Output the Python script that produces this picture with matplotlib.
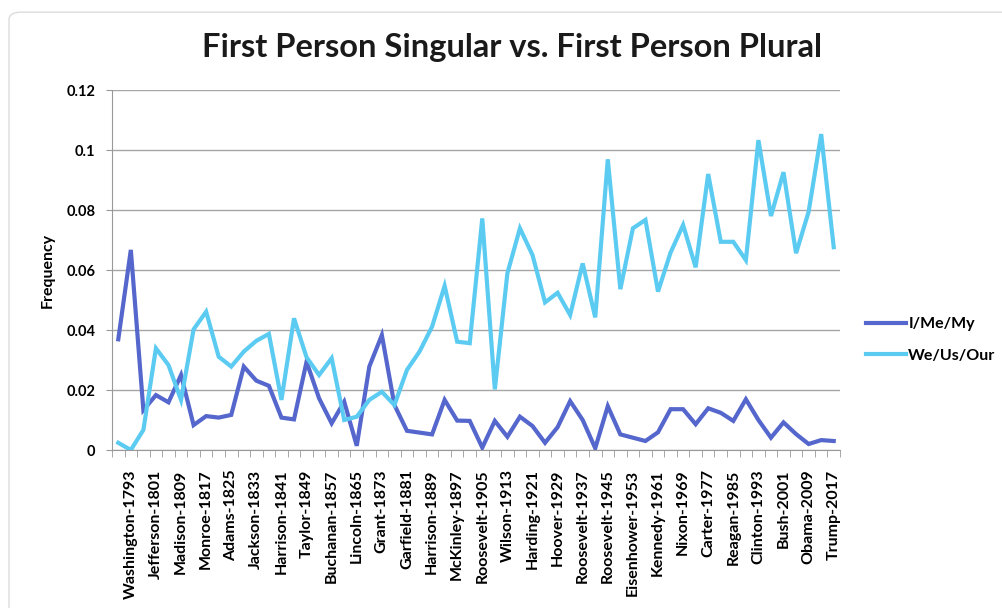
import matplotlib
matplotlib.use("Agg")
import matplotlib.pyplot as plt
from matplotlib.patches import FancyBboxPatch

# inaugural addresses, 1789 - 2017
speeches = [
    "Washington-1789", "Washington-1793", "Adams-1797", "Jefferson-1801", "Jefferson-1805",
    "Madison-1809", "Madison-1813", "Monroe-1817", "Monroe-1821", "Adams-1825",
    "Jackson-1829", "Jackson-1833", "VanBuren-1837", "Harrison-1841", "Polk-1845",
    "Taylor-1849", "Pierce-1853", "Buchanan-1857", "Lincoln-1861", "Lincoln-1865",
    "Grant-1869", "Grant-1873", "Hayes-1877", "Garfield-1881", "Cleveland-1885",
    "Harrison-1889", "Cleveland-1893", "McKinley-1897", "McKinley-1901", "Roosevelt-1905",
    "Taft-1909", "Wilson-1913", "Wilson-1917", "Harding-1921", "Coolidge-1925",
    "Hoover-1929", "Roosevelt-1933", "Roosevelt-1937", "Roosevelt-1941", "Roosevelt-1945",
    "Truman-1949", "Eisenhower-1953", "Eisenhower-1957", "Kennedy-1961", "Johnson-1965",
    "Nixon-1969", "Nixon-1973", "Carter-1977", "Reagan-1981", "Reagan-1985",
    "Bush-1989", "Clinton-1993", "Clinton-1997", "Bush-2001", "Bush-2005",
    "Obama-2009", "Obama-2013", "Trump-2017",
]

i_me_my = [
    0.0369, 0.0667, 0.0133, 0.0183, 0.0159, 0.0250, 0.0083, 0.0113, 0.0108, 0.0117,
    0.0278, 0.0231, 0.0214, 0.0108, 0.0102, 0.0294, 0.0172, 0.0089, 0.0161, 0.0014,
    0.0278, 0.0383, 0.0150, 0.0064, 0.0058, 0.0052, 0.0167, 0.0098, 0.0097, 0.0008,
    0.0097, 0.0044, 0.0111, 0.0080, 0.0024, 0.0076, 0.0163, 0.0100, 0.0006, 0.0146,
    0.0052, 0.0041, 0.0030, 0.0059, 0.0136, 0.0136, 0.0086, 0.0139, 0.0124, 0.0097,
    0.0169, 0.0100, 0.0041, 0.0092, 0.0053, 0.0020, 0.0033, 0.0030,
]

we_us_our = [
    0.0024, 0.0000, 0.0067, 0.0339, 0.0283, 0.0167, 0.0402, 0.0461, 0.0311, 0.0278,
    0.0328, 0.0364, 0.0387, 0.0167, 0.0439, 0.0309, 0.0250, 0.0306, 0.0100, 0.0111,
    0.0167, 0.0194, 0.0150, 0.0267, 0.0328, 0.0411, 0.0547, 0.0361, 0.0356, 0.0772,
    0.0202, 0.0589, 0.0739, 0.0650, 0.0492, 0.0524, 0.0450, 0.0622, 0.0442, 0.0969,
    0.0536, 0.0739, 0.0767, 0.0528, 0.0658, 0.0750, 0.0609, 0.0920, 0.0694, 0.0694,
    0.0633, 0.1033, 0.0780, 0.0926, 0.0656, 0.0794, 0.1053, 0.0676,
]

plt.rcParams['font.family'] = ['Lato', 'DejaVu Sans']

fig = plt.figure(figsize=(10.03, 6.08), dpi=100)

# card border behind everything
card = FancyBboxPatch((0.009, -0.05), 1.2, 1.03, boxstyle="round,pad=0,rounding_size=0.012",
                      transform=fig.transFigure, facecolor='white', edgecolor='#dcdcdc',
                      linewidth=1.0, zorder=-10)
fig.patches.append(card)

ax = fig.add_axes([112 / 1003, 1 - 450 / 608, 728 / 1003, 360 / 608])

x = list(range(len(speeches)))
ax.plot(x, i_me_my, color='#5566cc', linewidth=3.0, label='I/Me/My', solid_joinstyle='miter')
ax.plot(x, we_us_our, color='#5bcbf2', linewidth=3.0, label='We/Us/Our', solid_joinstyle='miter')

ax.set_xlim(-0.5, len(speeches) - 0.5)
ax.set_ylim(0, 0.12)
ax.set_yticks([0, 0.02, 0.04, 0.06, 0.08, 0.1, 0.12])
ax.set_yticklabels(['0', '0.02', '0.04', '0.06', '0.08', '0.1', '0.12'],
                   fontsize=10.5, fontweight='bold')
ax.tick_params(axis='y', length=4, color='#999999', pad=8, direction='out')
ax.grid(True, axis='y', color='#a6a6a6', linewidth=1.0)
ax.set_axisbelow(True)

# category labels every other speech, tick marks between categories
ax.set_xticks(x[1::2])
ax.set_xticklabels(speeches[1::2], rotation=90, fontsize=11.5, fontweight='bold')
ax.set_xticks([i - 0.5 for i in range(len(speeches) + 1)], minor=True)
ax.tick_params(axis='x', which='major', length=0, pad=14)
ax.tick_params(axis='x', which='minor', length=5, color='#999999')

for s in ['top', 'right']:
    ax.spines[s].set_visible(False)
ax.spines['left'].set_color('#999999')
ax.spines['bottom'].set_color('#999999')

ax.set_ylabel('Frequency', fontsize=11.5, fontweight='bold', labelpad=8)

fig.text(512 / 1003, 1 - 47 / 608, 'First Person Singular vs. First Person Plural',
         ha='center', va='center', fontsize=23.5, fontweight='bold', color='#1a1a1a')

fig.legend(loc='center left', bbox_to_anchor=(866 / 1003, 1 - 340 / 608), frameon=False,
           borderpad=0, borderaxespad=0,
           handlelength=2.5, handletextpad=0.15, labelspacing=1.1,
           prop={'size': 11.5, 'weight': 'bold'})

fig.savefig('out.png', dpi=100)
